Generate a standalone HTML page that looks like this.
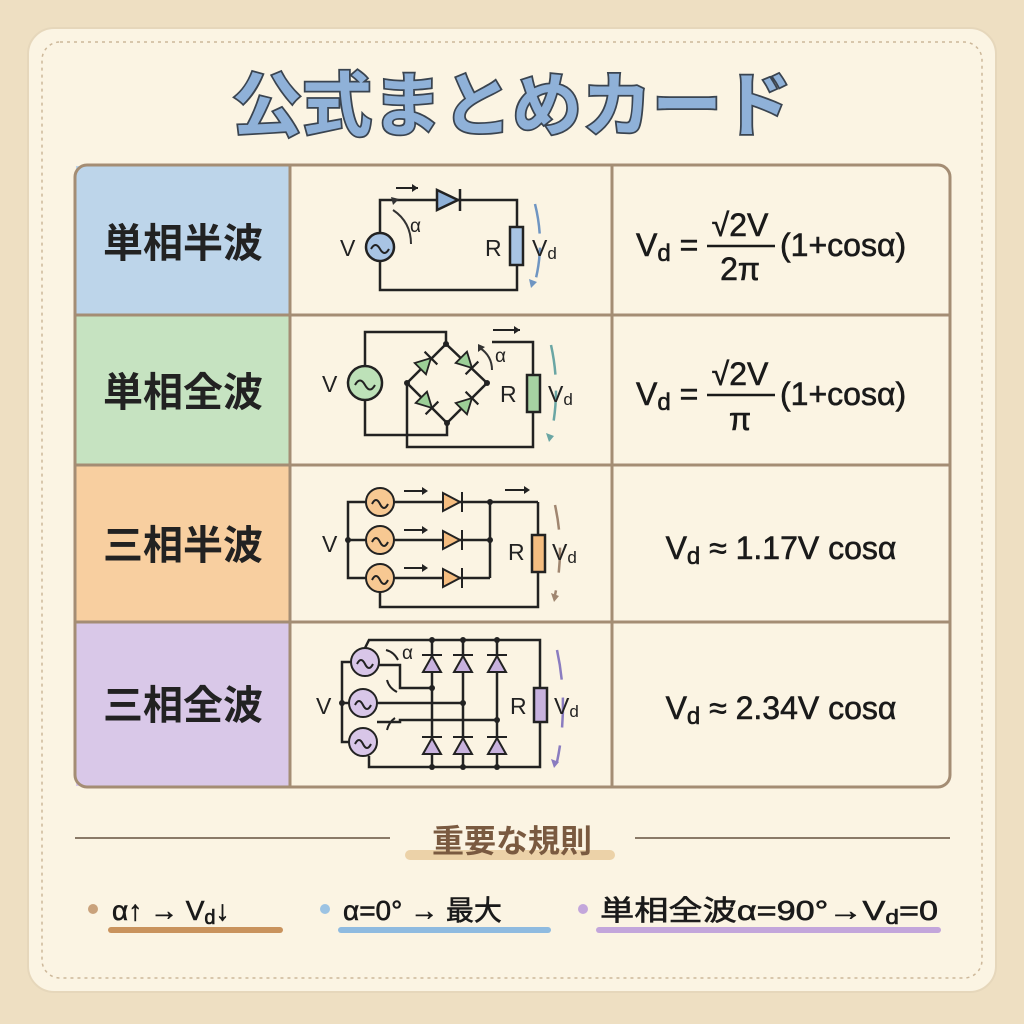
<!DOCTYPE html>
<html><head><meta charset="utf-8"><style>
body{margin:0;width:1024px;height:1024px;background:#efe2c6;overflow:hidden}
svg{display:block}
text{font-family:"Liberation Sans","Noto Sans CJK JP",sans-serif}
</style></head><body>
<svg width="1024" height="1024" viewBox="0 0 1024 1024" xmlns="http://www.w3.org/2000/svg">
<defs>
<g id="dg"><polygon points="-8,-8 -8,8 7,0" fill="#9ccf97" stroke="#222" stroke-width="1.8"/><line x1="7" y1="-9" x2="7" y2="9" stroke="#222" stroke-width="2.2"/></g>
</defs>
<rect x="0" y="0" width="1024" height="1024" fill="#eedfc2"/>
<rect x="28" y="28" width="968" height="964" rx="26" fill="#fbf4e3" stroke="#e6d7bb" stroke-width="2"/>
<rect x="42" y="42" width="940" height="936" rx="18" fill="none" stroke="#cdb89a" stroke-width="1.5" stroke-dasharray="3 4"/>
<text x="512" y="130" text-anchor="middle" font-size="70" font-weight="bold" fill="#8fb1d8" stroke="#3a4450" stroke-width="3.5" paint-order="stroke">公式まとめカード</text>
<rect x="76" y="166" width="214" height="149" fill="#bdd5ea"/>
<rect x="76" y="315" width="214" height="150" fill="#c6e3c1"/>
<rect x="76" y="465" width="214" height="157" fill="#f8cfa0"/>
<rect x="76" y="622" width="214" height="164" fill="#d9c8e8"/>
<g stroke="#a48d74" stroke-width="3" fill="none">
<rect x="75" y="165" width="875" height="622" rx="12"/>
<line x1="290" y1="165" x2="290" y2="787"/>
<line x1="612" y1="165" x2="612" y2="787"/>
<line x1="75" y1="315" x2="950" y2="315"/>
<line x1="75" y1="465" x2="950" y2="465"/>
<line x1="75" y1="622" x2="950" y2="622"/>
</g>
<g font-size="40" fill="#222" text-anchor="middle" font-weight="bold">
<text x="183" y="257">単相半波</text>
<text x="183" y="406">単相全波</text>
<text x="183" y="559">三相半波</text>
<text x="183" y="719">三相全波</text>
</g>
<g stroke="#222" stroke-width="2.5" fill="none">
<polyline points="380,233 380,200 517,200 517,227"/>
<polyline points="380,261 380,290 517,290 517,265"/>
<rect x="510" y="227" width="13" height="38" fill="#a8c4e4"/>
<polygon points="437,190 437,210 458,200" fill="#8fb1d8"/>
<line x1="460" y1="189" x2="460" y2="211"/>
<circle cx="380" cy="247" r="14" fill="#a8c4e4"/>
<path d="M371 249 q4.5 -8 9 0 t9 0" stroke-width="2"/>
<path d="M411 244 q0 -22 -18 -34" stroke="#333" stroke-width="2"/>
<line x1="396" y1="188" x2="418" y2="188" stroke-width="2"/>
</g>
<path d="M393 205 l-2 -8 l8 2z" fill="#333"/>
<path d="M418 188 l-6 -4 v8z" fill="#222"/>
<path d="M535 204 q10 40 0 78" stroke="#6f95c2" stroke-width="2.5" fill="none" stroke-dasharray="30 14"/>
<path d="M531 288 l-2 -9 l8 3z" fill="#6f95c2"/>
<g font-size="23" fill="#222"><text x="340" y="256">V</text><text x="410" y="232" font-size="19">α</text><text x="485" y="256">R</text><text x="532" y="256">V<tspan font-size="17" dy="3">d</tspan></text></g>
<g stroke="#222" stroke-width="2.5" fill="none">
<polyline points="365,366 365,332 446,332 446,344"/>
<polyline points="365,400 365,435 447,435 447,423"/>
<polygon points="446,344 407,383 447,423 487,383"/>
<polyline points="407,383 407,447 533,447 533,412"/>
<polyline points="533,375 533,342 492,342"/>
<rect x="527" y="375" width="13" height="37" fill="#a6d2a2"/>
<circle cx="365" cy="383" r="17" fill="#bde1b8"/>
<path d="M355 385 q5 -9 10 0 t10 0" stroke-width="2"/>
<path d="M492 370 q0 -14 -12 -22" stroke="#333" stroke-width="2"/>
<line x1="493" y1="330" x2="520" y2="330" stroke-width="2"/>
</g>
<use href="#dg" transform="translate(426,363) rotate(-45)"/>
<use href="#dg" transform="translate(467,363) rotate(45)"/>
<use href="#dg" transform="translate(427,403) rotate(45)"/>
<use href="#dg" transform="translate(467,403) rotate(-45)"/>
<g fill="#222"><circle cx="446" cy="344" r="3"/><circle cx="407" cy="383" r="3"/><circle cx="487" cy="383" r="3"/><circle cx="447" cy="423" r="3"/></g>
<path d="M478 352 l0 -8 l7 3z" fill="#333"/>
<path d="M520 330 l-6 -4 v8z" fill="#222"/>
<path d="M551 345 q10 45 0 90" stroke="#6aa6a4" stroke-width="2.5" fill="none" stroke-dasharray="30 16"/>
<path d="M549 442 l-3 -9 l8 3z" fill="#6aa6a4"/>
<g font-size="23" fill="#222"><text x="322" y="392">V</text><text x="495" y="362" font-size="19">α</text><text x="500" y="402">R</text><text x="548" y="402">V<tspan font-size="17" dy="3">d</tspan></text></g>
<g stroke="#222" stroke-width="2.5" fill="none">
<polyline points="366,502 348,502 348,578 366,578"/>
<line x1="348" y1="540" x2="366" y2="540"/>
<line x1="394" y1="502" x2="538" y2="502"/>
<line x1="394" y1="540" x2="490" y2="540"/>
<line x1="394" y1="578" x2="490" y2="578"/>
<line x1="490" y1="502" x2="490" y2="578"/>
<line x1="538" y1="502" x2="538" y2="535"/>
<polyline points="538,572 538,607 380,607 380,592"/>
<rect x="532" y="535" width="13" height="37" fill="#f5bd80"/>
</g>
<g stroke="#222" stroke-width="2">
<circle cx="380" cy="502" r="14" fill="#f7c892"/><circle cx="380" cy="540" r="14" fill="#f7c892"/><circle cx="380" cy="578" r="14" fill="#f7c892"/>
<g fill="none"><path d="M372 504 q4 -8 8 0 t8 0"/><path d="M372 542 q4 -8 8 0 t8 0"/><path d="M372 580 q4 -8 8 0 t8 0"/></g>
<polygon points="443,493 443,511 460,502" fill="#f5bd80"/><line x1="462" y1="492" x2="462" y2="512"/>
<polygon points="443,531 443,549 460,540" fill="#f5bd80"/><line x1="462" y1="530" x2="462" y2="550"/>
<polygon points="443,569 443,587 460,578" fill="#f5bd80"/><line x1="462" y1="568" x2="462" y2="588"/>
<line x1="404" y1="491" x2="425" y2="491"/><line x1="404" y1="530" x2="425" y2="530"/><line x1="404" y1="568" x2="425" y2="568"/><line x1="505" y1="490" x2="527" y2="490"/>
</g>
<g fill="#222"><path d="M428 491 l-6 -4 v8z"/><path d="M428 530 l-6 -4 v8z"/><path d="M428 568 l-6 -4 v8z"/><path d="M530 490 l-6 -4 v8z"/>
<circle cx="348" cy="540" r="3"/><circle cx="490" cy="502" r="3"/><circle cx="490" cy="540" r="3"/></g>
<path d="M555 505 q10 45 0 90" stroke="#a08670" stroke-width="2.5" fill="none" stroke-dasharray="25 18"/>
<path d="M554 602 l-3 -9 l8 3z" fill="#a08670"/>
<g font-size="23" fill="#222"><text x="322" y="552">V</text><text x="508" y="560">R</text><text x="552" y="560">V<tspan font-size="17" dy="3">d</tspan></text></g>
<g stroke="#222" stroke-width="2.5" fill="none">
<polyline points="365,648 369,640 540,640 540,688"/>
<polyline points="540,722 540,767 369,767 369,756"/>
<polyline points="351,662 342,662 342,742 349,742"/>
<line x1="342" y1="703" x2="349" y2="703"/>
<polyline points="379,665 400,665 400,688 432,688"/>
<line x1="377" y1="703" x2="463" y2="703"/>
<polyline points="377,722 400,722 400,720 497,720"/>
<line x1="432" y1="640" x2="432" y2="767"/><line x1="463" y1="640" x2="463" y2="767"/><line x1="497" y1="640" x2="497" y2="767"/>
<rect x="534" y="688" width="13" height="34" fill="#c8b2de"/>
</g>
<g stroke="#222" stroke-width="2">
<circle cx="365" cy="662" r="14" fill="#d8c6e8"/><circle cx="363" cy="703" r="14" fill="#d8c6e8"/><circle cx="363" cy="742" r="14" fill="#d8c6e8"/>
<g fill="none"><path d="M357 664 q4 -8 8 0 t8 0"/><path d="M355 705 q4 -8 8 0 t8 0"/><path d="M355 744 q4 -8 8 0 t8 0"/></g>
<g fill="#c8b2de">
<polygon points="423,672 441,672 432,656"/><line x1="422" y1="655" x2="442" y2="655"/>
<polygon points="454,672 472,672 463,656"/><line x1="453" y1="655" x2="473" y2="655"/>
<polygon points="488,672 506,672 497,656"/><line x1="487" y1="655" x2="507" y2="655"/>
<polygon points="423,754 441,754 432,738"/><line x1="422" y1="737" x2="442" y2="737"/>
<polygon points="454,754 472,754 463,738"/><line x1="453" y1="737" x2="473" y2="737"/>
<polygon points="488,754 506,754 497,738"/><line x1="487" y1="737" x2="507" y2="737"/>
</g>
<g fill="none"><path d="M398 660 q-4 -8 -12 -10"/><path d="M387 680 q2 8 10 12"/><path d="M387 730 q2 -8 8 -12"/></g>
</g>
<g fill="#222">
<circle cx="432" cy="640" r="3"/><circle cx="463" cy="640" r="3"/><circle cx="497" cy="640" r="3"/>
<circle cx="432" cy="767" r="3"/><circle cx="463" cy="767" r="3"/><circle cx="497" cy="767" r="3"/>
<circle cx="432" cy="688" r="3"/><circle cx="463" cy="703" r="3"/><circle cx="497" cy="720" r="3"/><circle cx="342" cy="703" r="3"/>
</g>
<path d="M557 650 q12 55 0 112" stroke="#8a7cc0" stroke-width="2.5" fill="none" stroke-dasharray="30 18"/>
<path d="M554 768 l-3 -9 l8 3z" fill="#8a7cc0"/>
<g font-size="23" fill="#222"><text x="402" y="659" font-size="19">α</text><text x="316" y="714">V</text><text x="510" y="714">R</text><text x="554" y="714">V<tspan font-size="17" dy="3">d</tspan></text></g>
<g font-size="32" fill="#1a1a1a" stroke="#1a1a1a" stroke-width="0.6">
<text x="636" y="256">V<tspan font-size="24" dy="5">d</tspan><tspan dy="-5"> =</tspan></text>
<text x="740" y="236" text-anchor="middle">√2V</text>
<line x1="707" y1="246" x2="775" y2="246" stroke-width="2.5"/>
<text x="740" y="280" text-anchor="middle">2π</text>
<text x="780" y="256">(1+cosα)</text>
<text x="636" y="405">V<tspan font-size="24" dy="5">d</tspan><tspan dy="-5"> =</tspan></text>
<text x="740" y="385" text-anchor="middle">√2V</text>
<line x1="707" y1="395" x2="775" y2="395" stroke-width="2.5"/>
<text x="740" y="430" text-anchor="middle">π</text>
<text x="780" y="405">(1+cosα)</text>
<text x="781" y="559" text-anchor="middle">V<tspan font-size="24" dy="5">d</tspan><tspan dy="-5"> ≈ 1.17V cosα</tspan></text>
<text x="781" y="719" text-anchor="middle">V<tspan font-size="24" dy="5">d</tspan><tspan dy="-5"> ≈ 2.34V cosα</tspan></text>
</g>
<line x1="75" y1="838" x2="390" y2="838" stroke="#8a7a68" stroke-width="2"/>
<line x1="635" y1="838" x2="950" y2="838" stroke="#8a7a68" stroke-width="2"/>
<rect x="405" y="850" width="210" height="10" rx="5" fill="#ecd2a8"/>
<text x="512" y="852" text-anchor="middle" font-size="32" fill="#7a5a40" font-weight="bold">重要な規則</text>
<g font-size="28" fill="#1a1a1a" stroke="#1a1a1a" stroke-width="0.6">
<circle cx="93" cy="909" r="5" fill="#c9a27c" stroke="none"/>
<rect x="108" y="927" width="175" height="6" rx="3" fill="#c9935d" stroke="none"/>
<text x="112" y="920">α↑ → V<tspan font-size="20" dy="4">d</tspan><tspan dy="-4">↓</tspan></text>
<circle cx="325" cy="909" r="5" fill="#9cc3e3" stroke="none"/>
<rect x="338" y="927" width="213" height="6" rx="3" fill="#8fbbe0" stroke="none"/>
<text x="343" y="920">α=0° → 最大</text>
<circle cx="583" cy="909" r="5" fill="#c3a6db" stroke="none"/>
<rect x="596" y="927" width="345" height="6" rx="3" fill="#c3a6db" stroke="none"/>
<text x="600" y="920" textLength="338" lengthAdjust="spacingAndGlyphs">単相全波α=90°→V<tspan font-size="20" dy="4">d</tspan><tspan dy="-4">=0</tspan></text>
</g>
</svg>
</body></html>
